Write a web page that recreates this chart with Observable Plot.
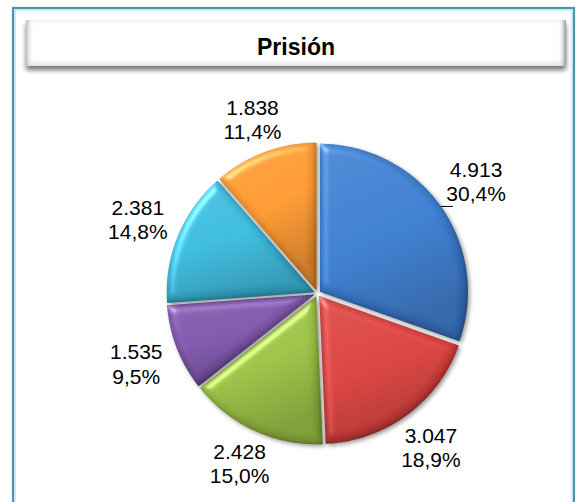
<!DOCTYPE html>
<html><head><meta charset="utf-8">
<script src="https://cdn.jsdelivr.net/npm/d3@7"></script>
<script src="https://cdn.jsdelivr.net/npm/@observablehq/plot@0.6"></script>
<style>body{margin:0;background:#fff}#chart{width:579px;height:502px;overflow:hidden}</style>
</head><body><div id="chart"></div>
<script>
const title = "Prisión";
const categories = ["Categoría 1", "Categoría 2", "Categoría 3", "Categoría 4", "Categoría 5", "Categoría 6"];
const values = [4913, 3047, 2428, 1535, 2381, 1838];
const colors = ["#3a7acb", "#d43f3c", "#98bd42", "#7a53a5", "#39b6d8", "#f7952f"];

const locale = d3.formatLocale({decimal: ",", thousands: ".", grouping: [3], currency: ["", "€"]});
const fmtN = locale.format(",.0f");
const fmtP = locale.format(".1%");
const total = d3.sum(values);

const W = 579, H = 502, CX = 317, CY = 293, R = 148, EXPLODE = 3;
const e = EXPLODE / R;

const arcs = d3.pie().sort(null).value(d => d)(values);
const slices = arcs.map((a, i) => ({
  i, name: categories[i], value: values[i], color: colors[i],
  a0: a.startAngle, a1: a.endAngle, mid: (a.startAngle + a.endAngle) / 2
}));

function outlineOf(s) {
  const ox = e * Math.sin(s.mid), oy = e * Math.cos(s.mid);
  const pts = [{x: ox, y: oy}];
  const n = Math.max(2, Math.ceil((s.a1 - s.a0) / 0.01));
  for (let k = 0; k <= n; k++) {
    const t = s.a0 + (s.a1 - s.a0) * k / n;
    pts.push({x: ox + Math.sin(t), y: oy + Math.cos(t)});
  }
  pts.push({x: ox, y: oy});
  return pts;
}

const labels = slices.map(s => {
  const sx = Math.sin(s.mid), sy = Math.cos(s.mid);
  const dist = (R + 13 + 30 * Math.abs(sx) + 15 * Math.abs(sy)) / R;
  return {x: dist * sx, y: dist * sy, text: fmtN(s.value) + "\n" + fmtP(s.value / total)};
});

const first = slices[0];
const lp = 1 + e;
const leader = [{x1: lp * Math.sin(first.mid), y1: lp * Math.cos(first.mid),
                 x2: lp * Math.sin(first.mid) + 12 / R, y2: lp * Math.cos(first.mid)}];

const chart = Plot.plot({
  width: W, height: H,
  x: {domain: [-1, 1], range: [CX - R, CX + R], axis: null},
  y: {domain: [-1, 1], range: [CY + R, CY - R], axis: null},
  style: {fontFamily: "'Liberation Sans', Arial, sans-serif", background: "white", overflow: "hidden"},
  marks: [
    ...slices.map(s => Plot.line(outlineOf(s), {x: "x", y: "y", fill: `url(#grad${s.i})`, stroke: "none"})),
    Plot.link(leader, {x1: "x1", y1: "y1", x2: "x2", y2: "y2", stroke: "#000", strokeWidth: 1}),
    Plot.text(labels, {x: "x", y: "y", text: "text", fontSize: 21, lineHeight: 1.15, fill: "#000"})
  ]
});
document.getElementById("chart").appendChild(chart);

const svg = d3.select(chart);
const defs = svg.insert("defs", ":first-child");
slices.forEach(s => {
  const c = d3.color(s.color);
  const g = defs.append("linearGradient").attr("id", "grad" + s.i)
    .attr("x1", 0).attr("y1", 0).attr("x2", 0.35).attr("y2", 1);
  g.append("stop").attr("offset", "0%").attr("stop-color", d3.interpolateRgb(s.color, "#fff")(0.08));
  g.append("stop").attr("offset", "55%").attr("stop-color", s.color);
  g.append("stop").attr("offset", "100%").attr("stop-color", c.darker(0.6).formatHex());
});
defs.html(defs.html() + `
<filter id="gel" x="-15%" y="-15%" width="135%" height="135%" color-interpolation-filters="sRGB">
  <feGaussianBlur in="SourceAlpha" stdDeviation="4" result="b"/>
  <feSpecularLighting in="b" surfaceScale="4" specularConstant="0.8" specularExponent="30" lighting-color="#ffffff" result="s">
    <feDistantLight azimuth="225" elevation="45"/>
  </feSpecularLighting>
  <feComposite in="s" in2="SourceAlpha" operator="in" result="si"/>
  <feComposite in="SourceGraphic" in2="si" operator="arithmetic" k1="0" k2="1" k3="0.4" k4="0" result="lit0"/>
  <feGaussianBlur in="SourceAlpha" stdDeviation="2.5" result="eb"/>
  <feOffset in="eb" dx="-2" dy="-2" result="eo"/>
  <feComposite in="SourceAlpha" in2="eo" operator="out" result="edge"/>
  <feFlood flood-color="#000" flood-opacity="0.28" result="dk"/>
  <feComposite in="dk" in2="edge" operator="in" result="dedge"/>
  <feMerge result="lit"><feMergeNode in="lit0"/><feMergeNode in="dedge"/></feMerge>
  <feGaussianBlur in="SourceAlpha" stdDeviation="2" result="sb"/>
  <feOffset in="sb" dx="1.5" dy="2" result="so"/>
  <feComponentTransfer in="so" result="sh"><feFuncA type="linear" slope="0.4"/></feComponentTransfer>
  <feMerge><feMergeNode in="sh"/><feMergeNode in="lit"/></feMerge>
</filter>
<filter id="tshadow" x="-5%" y="-30%" width="110%" height="170%">
  <feGaussianBlur in="SourceAlpha" stdDeviation="2.5" result="b"/>
  <feOffset in="b" dx="0" dy="4" result="o"/>
  <feComponentTransfer in="o" result="sh"><feFuncA type="linear" slope="0.55"/></feComponentTransfer>
  <feMerge><feMergeNode in="sh"/><feMergeNode in="SourceGraphic"/></feMerge>
</filter>
<linearGradient id="tgrad" x1="0" y1="0" x2="0" y2="1">
  <stop offset="0%" stop-color="#f4f4f4"/><stop offset="12%" stop-color="#ffffff"/>
  <stop offset="85%" stop-color="#ffffff"/><stop offset="100%" stop-color="#e4e4e4"/>
</linearGradient>
<linearGradient id="tside" x1="0" y1="0" x2="1" y2="0">
  <stop offset="0%" stop-color="#b8b8b8" stop-opacity="0.9"/><stop offset="1.5%" stop-color="#ffffff" stop-opacity="0"/>
  <stop offset="98.5%" stop-color="#ffffff" stop-opacity="0"/><stop offset="100%" stop-color="#8a8a8a" stop-opacity="0.9"/>
</linearGradient>`);

svg.selectAll('g[aria-label="line"]').attr("filter", "url(#gel)");

const deco = svg.insert("g", "defs + *").attr("class", "deco");
deco.append("rect").attr("x", 13).attr("y", 8).attr("width", 561).attr("height", 520)
  .attr("fill", "none").attr("stroke", "#4596ae").attr("stroke-width", 2.2);
deco.append("rect").attr("x", 15).attr("y", 10).attr("width", 557).attr("height", 520)
  .attr("fill", "none").attr("stroke", "#a9d6e3").attr("stroke-width", 1);
const tb = deco.append("g").attr("filter", "url(#tshadow)");
tb.append("rect").attr("x", 26).attr("y", 20).attr("width", 540).attr("height", 46).attr("fill", "url(#tgrad)");
tb.append("rect").attr("x", 26).attr("y", 20).attr("width", 540).attr("height", 46).attr("fill", "url(#tside)");
deco.append("text").attr("x", 296).attr("y", 55).attr("text-anchor", "middle")
  .attr("font-size", 23).attr("font-weight", "bold").attr("fill", "#000").text(title);
</script></body></html>
